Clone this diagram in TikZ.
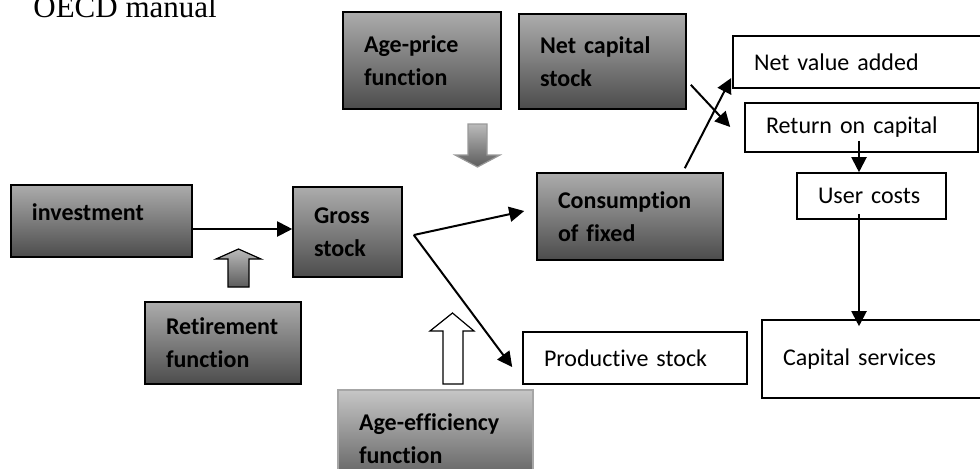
\documentclass[tikz,border=0pt]{standalone}
\usepackage{xcolor}
\usepackage{tikz}
\usepackage{fontspec}
\setmainfont{Carlito}[Ligatures={NoCommon}]
\newfontfamily\titlefont{Liberation Serif}
\usetikzlibrary{arrows.meta, calc}
\definecolor{boxTop}{RGB}{172, 172, 172}
\definecolor{boxBottom}{RGB}{76, 76, 76}
\definecolor{paleTop}{RGB}{198, 198, 198}
\definecolor{paleBottom}{RGB}{88, 88, 88}
\definecolor{arrowTop}{RGB}{186, 186, 186}
\definecolor{arrowBottom}{RGB}{92, 92, 92}

\begin{document}
\begin{tikzpicture}[
    x=0.5pt, y=-0.5pt,
    darkbox/.style={
        rectangle,
        draw=black,
        line width=0.8pt,
        top color=boxTop,
        bottom color=boxBottom,
        align=left,
        inner xsep=10.5pt,
        inner ysep=0pt,
        font=\fontsize{12}{16.5}\selectfont\bfseries
    },
    plainbox/.style={
        rectangle,
        draw=black,
        line width=0.8pt,
        fill=white,
        align=left,
        inner xsep=10.5pt,
        inner ysep=0pt,
        font=\fontsize{12}{16.5}\selectfont
    },
    blockarrow/.style={
        line width=0.6pt,
        line join=miter
    },
    link/.style={
        -{Triangle[length=7.5pt,width=7.5pt]},
        line width=1pt
    }
]
    \useasboundingbox (0,0) rectangle (980,468);

    % Title
    \node[anchor=base west, inner sep=0pt, font=\titlefont\fontsize{15.5}{18}\selectfont] (title) at (33,17) {OECD manual};

    % Shaded boxes
    \node[darkbox, text width=58pt, minimum height=48.5pt] (agePrice) at (422,60.5) {Age-price\\function};
    \node[darkbox, text width=62.5pt, minimum height=47.5pt] (netCap) at (602.5,61.5) {Net capital\\stock};
    \node[darkbox, text width=69.5pt, minimum height=36pt] (investment) at (101.5,221) {\raisebox{4.5pt}[\height][\depth]{investment}};
    \node[darkbox, text width=33.5pt, minimum height=45pt] (gross) at (347.5,232) {Gross\\stock};
    \node[darkbox, text width=72pt, minimum height=43.5pt] (consumption) at (630,216.5) {Consumption\\of fixed};
    \node[darkbox, text width=57pt, minimum height=41pt] (retirement) at (223,343) {Retirement\\function};
    \node[darkbox, draw=gray!70, top color=paleTop, bottom color=paleBottom, text width=76.5pt, minimum height=48.5pt] (ageEff) at (435.5,438.5) {Age-efficiency\\function};

    % White boxes
    \node[plainbox, text width=112.5pt, minimum height=26pt] (netValue) at (866.5,62) {Net value added};
    \node[plainbox, text width=95.5pt, minimum height=24.5pt] (returnCap) at (861.5,127.5) {Return on capital};
    \node[plainbox, text width=53.5pt, minimum height=23pt] (userCosts) at (871.5,196) {User costs};
    \node[plainbox, text width=91pt, minimum height=26pt] (prodStock) at (635,358) {Productive stock};
    \node[plainbox, text width=98pt, minimum height=39pt] (capServ) at (881,359) {Capital services};

    % Block arrows
    \shadedraw[blockarrow, draw=gray!80, top color=arrowTop, bottom color=arrowBottom]
        (468,124) -- (487,124) -- (487,155) -- (500,155) -- (477.5,167) -- (455,155) -- (468,155) -- cycle;
    \shadedraw[blockarrow, draw=black, top color=arrowTop, bottom color=arrowBottom]
        (228,287) -- (228,259) -- (216,259) -- (238.5,249) -- (261,259) -- (249,259) -- (249,287) -- cycle;
    \filldraw[blockarrow, draw=black, fill=white]
        (443,384) -- (443,331) -- (430,331) -- (452.5,313) -- (474,331) -- (463,331) -- (463,384) -- cycle;

    % Links
    \coordinate (invOut) at ($(investment.east)+(0,8)$);
    \draw[link] (invOut) -- (invOut -| gross.west);
    \coordinate (fork) at ($(gross.east)+(11,3)$);
    \draw[link] (fork) -- ($(consumption.west)+(-12,-5.5)$);
    \draw[link] (fork) -- ($(prodStock.west)+(-10,9)$);
    \draw[link] ($(netCap.south east)+(4,-25)$) -- ($(returnCap.west)+(-14,-0.5)$);
    \draw[link] ($(consumption.north east)+(-39,-4)$) -- ($(netValue.west)+(-1,16)$);
    \coordinate (rcOut) at ($(returnCap.south)+(-2.5,-12)$);
    \draw[link] (rcOut) -- (rcOut |- userCosts.north);
    \coordinate (ucOut) at ($(userCosts.south)+(-12.5,-6)$);
    \draw[link] (ucOut) -- ($(ucOut |- capServ.north)+(0,7)$);

\end{tikzpicture}
\end{document}
